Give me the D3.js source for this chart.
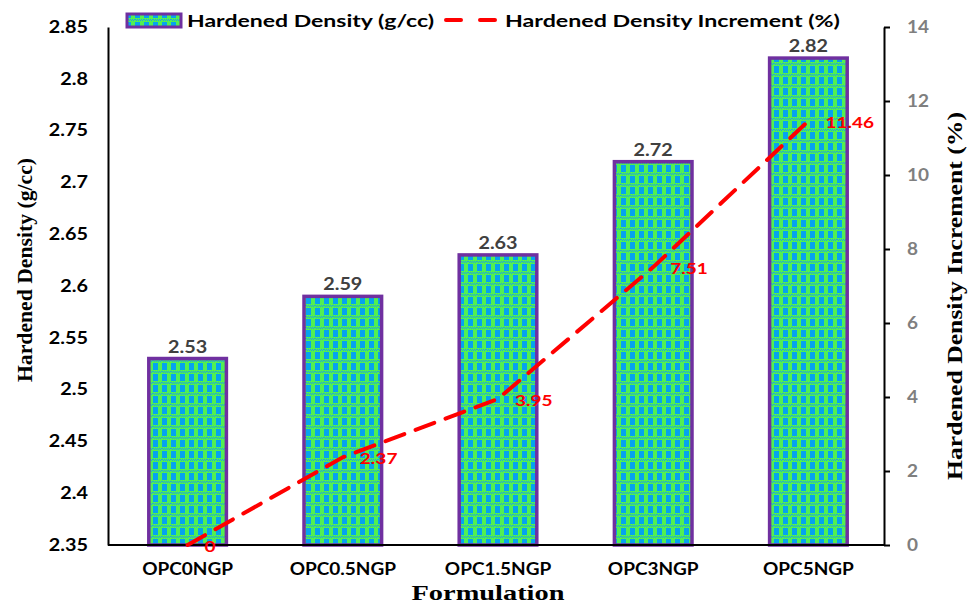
<!DOCTYPE html>
<html>
<head>
<meta charset="utf-8">
<script src="https://cdn.jsdelivr.net/npm/d3@7"></script>
<style>
  html, body { margin: 0; padding: 0; background: #fff; }
  svg { display: block; }
</style>
</head>
<body>
<svg id="chart" width="968" height="603"></svg>
<script>
// Formulations and measured values
const categories = ["OPC0NGP", "OPC0.5NGP", "OPC1.5NGP", "OPC3NGP", "OPC5NGP"];
const density = [2.53, 2.59, 2.63, 2.72, 2.82];
const increment = [0, 2.37, 3.95, 7.51, 11.46];
const leftTicks = [2.35, 2.4, 2.45, 2.5, 2.55, 2.6, 2.65, 2.7, 2.75, 2.8, 2.85];
const rightTicks = [0, 2, 4, 6, 8, 10, 12, 14];

const svg = d3.select("#chart");
const W = 968, H = 603;
const x0 = 108, x1 = 884;
const y0 = 545, y1 = 27;

const x = d3.scaleBand().domain(categories).range([x0 + 2, x1 + 2]).paddingInner(0.5).paddingOuter(0.25);
const yL = d3.scaleLinear().domain([2.35, 2.85]).range([y0, y1]);
const yR = d3.scaleLinear().domain([0, 14]).range([y0, y1]);

// Widen text horizontally by factor k (or to an exact length)
function stretch(sel, k) {
  sel.each(function () {
    const L = this.getComputedTextLength();
    d3.select(this).attr("textLength", L * k).attr("lengthAdjust", "spacingAndGlyphs");
  });
}
function fitTo(sel, len) {
  sel.attr("textLength", len).attr("lengthAdjust", "spacingAndGlyphs");
}

// Checkered blue/green fill for the bars
const defs = svg.append("defs");
const pat = defs.append("pattern")
  .attr("id", "check").attr("patternUnits", "userSpaceOnUse")
  .attr("width", 9).attr("height", 11);
pat.append("rect").attr("width", 9).attr("height", 11).attr("fill", "#52f052");
pat.append("rect").attr("x", 0).attr("y", 0).attr("width", 5).attr("height", 7).attr("fill", "#05a3ef");
for (let px = 0; px < 9; px += 2) {
  pat.append("rect").attr("x", px).attr("y", 8).attr("width", 1).attr("height", 1).attr("fill", "#1ea6dc");
  pat.append("rect").attr("x", px + 1).attr("y", 9).attr("width", 1).attr("height", 1).attr("fill", "#1ea6dc");
}

const tickFont = "Lato, 'Open Sans', sans-serif";

// Bars
svg.append("g").selectAll("rect").data(density).join("rect")
  .attr("x", (d, i) => x(categories[i]))
  .attr("y", d => yL(d))
  .attr("width", x.bandwidth())
  .attr("height", d => yL(2.35) - yL(d))
  .attr("fill", "url(#check)")
  .attr("stroke", "#7030a0")
  .attr("stroke-width", 3.5);

// Bar value labels
svg.append("g").selectAll("text").data(density).join("text")
  .attr("x", (d, i) => x(categories[i]) + x.bandwidth() / 2)
  .attr("y", d => yL(d) - 6)
  .attr("text-anchor", "middle")
  .attr("font-family", tickFont).attr("font-weight", "bold").attr("font-size", 16.5)
  .attr("fill", "#404040")
  .text(d => d.toFixed(2))
  .call(stretch, 1.2);

// Left axis
const axL = svg.append("g").attr("transform", `translate(${x0},0)`)
  .call(d3.axisLeft(yL).tickValues(leftTicks).tickSize(0).tickPadding(20).tickFormat(d => d3.format("")(+d.toFixed(2))));
axL.select(".domain").attr("stroke", "#000").attr("stroke-width", 2);
axL.selectAll("text").attr("font-family", tickFont).attr("font-weight", "bold").attr("font-size", 16.5).attr("fill", "#000")
  .call(stretch, 1.2);

// Right axis
const axR = svg.append("g").attr("transform", `translate(${x1},0)`)
  .call(d3.axisRight(yR).tickValues(rightTicks).tickSizeInner(6).tickSizeOuter(0).tickPadding(17));
axR.select(".domain").attr("stroke", "#000").attr("stroke-width", 2);
axR.selectAll(".tick line").attr("stroke", "#000").attr("stroke-width", 2);
axR.selectAll("text").attr("font-family", tickFont).attr("font-weight", "bold").attr("font-size", 16.5).attr("fill", "#7f7f7f")
  .call(stretch, 1.15);

// Bottom axis
const axB = svg.append("g").attr("transform", `translate(0,${y0})`)
  .call(d3.axisBottom(x).tickSize(0).tickPadding(18));
axB.select(".domain").attr("stroke", "#000").attr("stroke-width", 2)
  .attr("d", `M${x0},0H${x1}`);
axB.selectAll("text").attr("font-family", tickFont).attr("font-weight", "bold").attr("font-size", 16.5).attr("fill", "#000")
  .call(stretch, 1.15);

// Increment line
const line = d3.line().x((d, i) => x(categories[i]) + x.bandwidth() / 2).y(d => yR(d));
svg.append("path").datum(increment)
  .attr("d", line).attr("fill", "none")
  .attr("stroke", "#ff0000").attr("stroke-width", 4)
  .attr("stroke-dasharray", "20,12").attr("stroke-linecap", "round");

svg.append("g").selectAll("text").data(increment).join("text")
  .attr("x", (d, i) => x(categories[i]) + x.bandwidth() / 2 + 17)
  .attr("y", d => yR(d) + 7)
  .attr("font-family", tickFont).attr("font-weight", "bold").attr("font-size", 15)
  .attr("fill", "#ff0000")
  .text(d => d3.format("")(d))
  .call(stretch, 1.27);

// Axis titles
const titleFont = "'Liberation Serif', 'Times New Roman', serif";
svg.append("text").attr("x", 488).attr("y", 600)
  .attr("text-anchor", "middle").attr("font-family", titleFont).attr("font-weight", "bold").attr("font-size", 21)
  .text("Formulation")
  .call(fitTo, 153);
svg.append("text").attr("transform", `translate(32,270) rotate(-90)`)
  .attr("text-anchor", "middle").attr("font-family", titleFont).attr("font-weight", "bold").attr("font-size", 22)
  .text("Hardened Density (g/cc)")
  .call(fitTo, 224);
svg.append("text").attr("transform", `translate(962,296) rotate(-90)`)
  .attr("text-anchor", "middle").attr("font-family", titleFont).attr("font-weight", "bold").attr("font-size", 22)
  .text("Hardened Density Increment (%)")
  .call(fitTo, 368);

// Legend
const lg = svg.append("g");
lg.append("rect").attr("x", 127).attr("y", 14).attr("width", 54).attr("height", 13)
  .attr("fill", "url(#check)").attr("stroke", "#7030a0").attr("stroke-width", 3);
lg.append("text").attr("x", 187).attr("y", 27)
  .attr("font-family", tickFont).attr("font-weight", "bold").attr("font-size", 17).attr("fill", "#000")
  .text("Hardened Density (g/cc)")
  .call(fitTo, 247);
lg.append("line").attr("x1", 446).attr("x2", 497).attr("y1", 20).attr("y2", 20)
  .attr("stroke", "#ff0000").attr("stroke-width", 4).attr("stroke-dasharray", "15,19").attr("stroke-linecap", "round");
lg.append("text").attr("x", 505).attr("y", 27)
  .attr("font-family", tickFont).attr("font-weight", "bold").attr("font-size", 17).attr("fill", "#000")
  .text("Hardened Density Increment (%)")
  .call(fitTo, 335);
</script>
</body>
</html>
